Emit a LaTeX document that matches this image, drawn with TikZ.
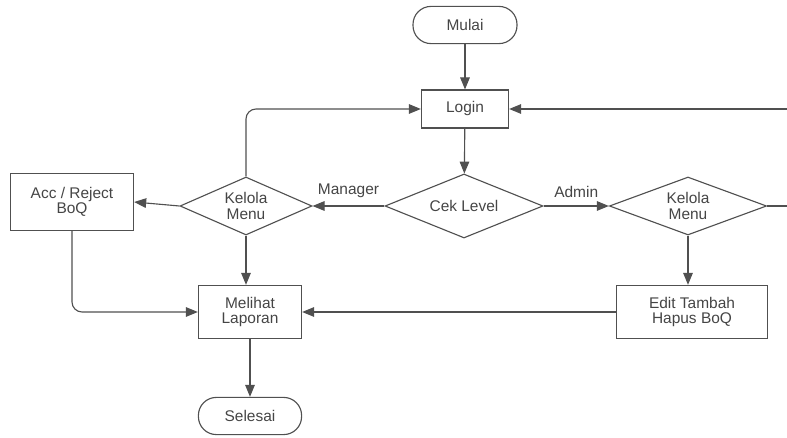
\documentclass[tikz,border=0pt]{standalone}
\usepackage{fontspec}
\setmainfont{Liberation Sans}
\usetikzlibrary{positioning, calc}
\usetikzlibrary{shapes.geometric}
\usetikzlibrary{arrows.meta}

\definecolor{garis}{HTML}{505050}
\definecolor{teks}{HTML}{454545}

\tikzset{
  alur/.style={draw=garis, line width=0.8pt, -{Triangle[length=3mm,width=2.4mm]}},
  proses/.style={draw=garis, line width=0.8pt, rectangle, align=center, text=teks, inner sep=0pt},
  terminal/.style={draw=garis, line width=0.8pt, rectangle, rounded corners=0.45cm, text=teks, inner sep=0pt},
  keputusan/.style={draw=garis, line width=0.8pt, diamond, align=center, text=teks, inner sep=0pt},
  label/.style={text=teks, inner sep=1pt}
}

\begin{document}
\begin{tikzpicture}[font=\fontsize{11}{11}\selectfont]
                \useasboundingbox (0,0) rectangle (19.675,-10.95);
                % simbol
                \node[terminal, minimum width=2.6cm, minimum height=0.93cm] (mulai) at (11.625,-0.625) {Mulai};
                \node[proses, minimum width=2.18cm, minimum height=0.95cm] (login) at (11.625,-2.725) {Login};
                \node[keputusan, aspect=2.47, minimum width=3.95cm, minimum height=1.6cm] (cek) at (11.6,-5.15) {Cek Level};
                \node[keputusan, aspect=2.28, minimum width=3.3cm, minimum height=1.45cm] (kelolaM) at (6.15,-5.15) {Kelola\\Menu};
                \node[keputusan, aspect=2.7, minimum width=3.93cm, minimum height=1.45cm] (kelolaA) at (17.2,-5.15) {Kelola\\Menu};
                \node[proses, minimum width=3.08cm, minimum height=1.43cm] (acc) at (1.8,-5.05) {Acc / Reject\\BoQ};
                \node[proses, minimum width=2.58cm, minimum height=1.33cm] (lapor) at (6.25,-7.8) {Melihat\\Laporan};
                \node[proses, minimum width=3.78cm, minimum height=1.33cm] (edit) at (17.3,-7.8) {Edit Tambah\\Hapus BoQ};
                \node[terminal, minimum width=2.58cm, minimum height=0.93cm] (selesai) at (6.25,-10.4) {Selesai};
                \coordinate (kanan1) at (19.675,-2.725);
                \coordinate (kanan2) at (19.675,-5.15);
                % alur
                \draw[alur] (mulai) -- (login);
                \draw[alur] (login) -- (cek);
                \draw[alur] (cek.west) -- node[label, above=0.15cm] {Manager} (kelolaM.east);
                \draw[alur] (cek.east) -- node[label, above=0.15cm] {Admin} (kelolaA.west);
                \draw[alur] (kelolaM.west) -- (acc.east);
                \draw[alur, rounded corners=0.25cm] (kelolaM.north) |- (login.west);
                \draw[alur] (kanan1) -- (login.east);
                \draw[draw=garis, line width=0.8pt] (kelolaA.east) -- (kanan2);
                \draw[alur] (kelolaM.south) -- (kelolaM.south |- lapor.north);
                \draw[alur, rounded corners=0.25cm] (acc.south) |- (lapor.west);
                \draw[alur] (kelolaA.south) -- (kelolaA.south |- edit.north);
                \draw[alur] (edit.west) -- (lapor.east);
                \draw[alur] (lapor) -- (selesai);
\end{tikzpicture}
\end{document}
